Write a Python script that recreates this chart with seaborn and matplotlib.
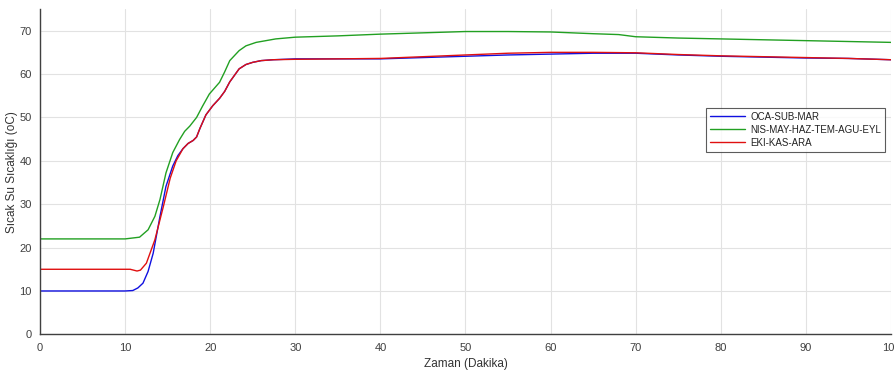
import matplotlib
matplotlib.use("Agg")
import matplotlib.pyplot as plt
import seaborn as sns

# OCA-SUB-MAR
blue_x = [0, 5, 10, 10.9, 11.5, 12.1, 12.7, 13.3, 14.1, 14.8,
          15.6, 16.2, 16.8, 17.4, 18.0, 18.4, 18.8, 19.5, 20.3, 21.1,
          21.7, 22.3, 23.4, 24.2, 25, 26, 27.4, 30, 35, 40,
          45, 50, 55, 60, 65, 70, 75, 80, 85, 90,
          95, 100]
blue_y = [10, 10, 10, 10.1, 10.7, 11.8, 14.5, 18.7, 27.2, 34.1,
          38.8, 41.2, 42.8, 44, 44.7, 45.5, 47.5, 50.6, 52.7, 54.4,
          56, 58.2, 61.2, 62.2, 62.7, 63.1, 63.3, 63.5, 63.5, 63.5,
          63.8, 64.1, 64.4, 64.6, 64.8, 64.8, 64.4, 64.1, 63.9, 63.7,
          63.6, 63.3]

# NIS-MAY-HAZ-TEM-AGU-EYL
green_x = [0, 5, 10, 11.7, 12.7, 13.5, 14.1, 14.8, 15.6, 16.4,
           17.0, 17.6, 18.0, 18.4, 19.1, 19.9, 21.1, 21.7, 22.3, 23.4,
           24.2, 25.4, 27.7, 30, 35, 40, 45, 50, 55, 60,
           65, 68, 70, 75, 80, 85, 90, 95, 100]
green_y = [22, 22, 22, 22.4, 24.1, 27.2, 31.1, 37.2, 41.9, 44.9,
           46.8, 48, 49, 50, 52.6, 55.4, 58.1, 60.5, 63.1, 65.4,
           66.5, 67.3, 68.1, 68.5, 68.8, 69.2, 69.5, 69.8, 69.8, 69.7,
           69.3, 69.1, 68.6, 68.3, 68.1, 67.9, 67.7, 67.5, 67.3]

# EKI-KAS-ARA
red_x = [0, 5, 10, 10.6, 11.0, 11.4, 11.8, 12.5, 13.5, 14.5,
         15.3, 16.0, 16.8, 17.4, 18.0, 18.4, 18.8, 19.5, 20.3, 21.1,
         21.7, 22.3, 23.4, 24.2, 25, 26, 27.4, 30, 35, 40,
         45, 50, 55, 60, 65, 70, 75, 80, 85, 90,
         95, 100]
red_y = [15, 15, 15, 15, 14.8, 14.6, 14.8, 16.4, 21.8, 29.5,
         36, 40, 42.8, 44, 44.7, 45.5, 47.5, 50.6, 52.7, 54.4,
         56, 58.2, 61.2, 62.2, 62.7, 63.1, 63.3, 63.4, 63.5, 63.6,
         64.0, 64.4, 64.8, 65.0, 65.0, 64.9, 64.5, 64.2, 64.0, 63.8,
         63.6, 63.3]

series = [
    ("OCA-SUB-MAR", blue_x, blue_y, "#1010e0"),
    ("NIS-MAY-HAZ-TEM-AGU-EYL", green_x, green_y, "#22a022"),
    ("EKI-KAS-ARA", red_x, red_y, "#e01010"),
]

sns.set_style("white")
plt.rcParams['font.family'] = ['Liberation Sans', 'DejaVu Sans']

fig = plt.figure(figsize=(8.95, 3.74), dpi=100)
ax = fig.add_axes([0.0447, 0.106, 0.9508, 0.870])

for name, xs, ys, col in series:
    sns.lineplot(x=xs, y=ys, ax=ax, color=col, linewidth=1.0, label=name)

ax.set_xlim(0, 100)
ax.set_ylim(0, 75)
ax.set_xticks(range(0, 101, 10))
ax.set_yticks(range(0, 71, 10))
ax.grid(True, color="#e2e2e2", linewidth=0.8)
ax.set_axisbelow(True)

for s in ["top", "right"]:
    ax.spines[s].set_visible(False)
for s in ["left", "bottom"]:
    ax.spines[s].set_color("#404040")
    ax.spines[s].set_linewidth(1.0)

ax.tick_params(direction="in", length=4, width=1.0, color="#404040",
               labelsize=8, labelcolor="#404040", pad=6)
ax.set_xlabel("Zaman (Dakika)", fontsize=8.5, color="#333333", labelpad=4)
ax.set_ylabel("Sıcak Su Sıcaklığı (oC)", fontsize=8.5, color="#333333", labelpad=1)

leg = ax.legend(loc="upper left", bbox_to_anchor=(0.783, 0.696), fontsize=7,
                frameon=True, fancybox=False, handlelength=3.6,
                borderpad=0.4, labelspacing=0.3, handletextpad=0.5,
                borderaxespad=0)
leg.get_frame().set_edgecolor("#333333")
leg.get_frame().set_linewidth(0.8)
for t in leg.get_texts():
    t.set_color("#222222")

fig.savefig("out.png", dpi=100)
